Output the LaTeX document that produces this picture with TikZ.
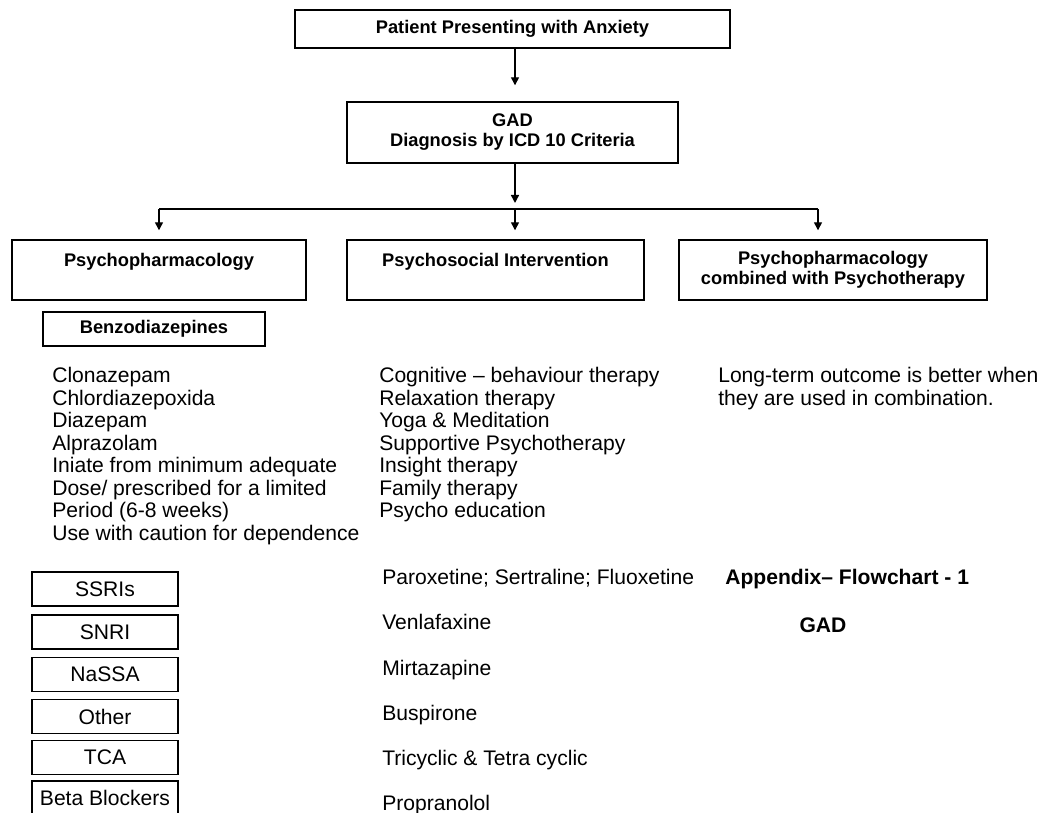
\documentclass[tikz,border=0pt]{standalone}
\usepackage{fontspec}
\setmainfont{Liberation Sans}
\usetikzlibrary{arrows.meta, positioning}

\tikzset{
  hbox/.style={draw, line width=1pt, inner sep=0pt, align=center,
    font=\fontsize{13}{14.2}\selectfont\bfseries},
  drugbox/.style={draw, line width=1pt, inner sep=0pt,
    minimum width=3.65cm, minimum height=0.85cm,
    font=\fontsize{15}{18}\selectfont},
  txt/.style={inner sep=0pt, align=left, font=\fontsize{15}{16}\selectfont},
  conn/.style={line width=1pt, -{Triangle[length=0.2cm,width=0.2cm]}}
}

\begin{document}
\begin{tikzpicture}[x=0.025cm, y=-0.025cm]
  \useasboundingbox (0,0) rectangle (1039,813);
  % top of the chart
  \node[hbox, minimum width=10.875cm, minimum height=0.95cm] (top) at (512.5,29) {Patient Presenting with Anxiety};
  \node[hbox, minimum width=8.275cm, minimum height=1.525cm] (gad) at (512.5,132.5) {GAD\\Diagnosis by ICD 10 Criteria};
  % three branches
  \node[hbox, minimum width=7.35cm, minimum height=1.5cm] (pharm) at (159,270) {Psychopharmacology\\\mbox{}};
  \node[hbox, minimum width=7.425cm, minimum height=1.5cm] (psysoc) at (495.5,270) {Psychosocial Intervention\\\mbox{}};
  \node[hbox, minimum width=7.7cm, minimum height=1.5cm] (combo) at (833,270) {Psychopharmacology\\combined with Psychotherapy};
  % split points
  \coordinate (split) at (515,209);
  \coordinate (splitL) at (159,209);
  \coordinate (splitR) at (818,209);
  \draw[conn, shorten >=0.4cm] (top.south -| split) -- (gad.north -| split);
  \draw[conn, shorten >=0.15cm] (gad.south -| split) -- (split);
  \draw[line width=1pt] (splitL) -- (splitR);
  \draw[conn, shorten >=0.225cm] (splitL) -- (splitL |- pharm.north);
  \draw[conn, shorten >=0.225cm] (split) -- (split |- psysoc.north);
  \draw[conn, shorten >=0.225cm] (splitR) -- (splitR |- combo.north);
  % benzodiazepines
  \node[hbox, minimum width=5.55cm, minimum height=0.85cm] (benzo) at (154,329) {Benzodiazepines};
  \node[txt, anchor=north west] (benzolist) at (52,367) {Clonazepam\\Chlordiazepoxida\\Diazepam\\Alprazolam\\Iniate from minimum adequate\\Dose/ prescribed for a limited\\Period (6-8 weeks)\\Use with caution for dependence};
  \node[txt, anchor=north west] (psylist) at (379,367) {Cognitive -- behaviour therapy\\Relaxation therapy\\Yoga \& Meditation\\Supportive Psychotherapy\\Insight therapy\\Family therapy\\Psycho education};
  \node[txt, anchor=north west] (combotxt) at (718,367) {Long-term outcome is better when\\they are used in combination.};
  % drug classes
  \node[drugbox] (ssri) at (105,589) {SSRIs};
  \node[drugbox] (snri) at (105,632) {SNRI};
  \node[drugbox] (nassa) at (105,674.5) {NaSSA};
  \node[drugbox] (other) at (105,716.5) {Other};
  \node[drugbox] (tca) at (105,757.5) {TCA};
  \node[drugbox] (beta) at (105,798) {Beta Blockers};
  % drugs
  \node[txt, anchor=base west] (parox) at (382,584) {Paroxetine; Sertraline; Fluoxetine};
  \node[txt, anchor=base west] (venla) at (382,629) {Venlafaxine};
  \node[txt, anchor=base west] (mirta) at (382,675) {Mirtazapine};
  \node[txt, anchor=base west] (busp) at (382,720) {Buspirone};
  \node[txt, anchor=base west] (tricy) at (382,765) {Tricyclic \& Tetra cyclic};
  \node[txt, anchor=base west] (propr) at (382,810) {Propranolol};
  % caption
  \node[txt, anchor=base west, font=\fontsize{15}{16}\selectfont\bfseries] (appx) at (725,584) {Appendix-- Flowchart - 1};
  \node[txt, anchor=base, font=\fontsize{15}{16}\selectfont\bfseries] (gadlbl) at (823,632) {GAD};
\end{tikzpicture}
\end{document}
